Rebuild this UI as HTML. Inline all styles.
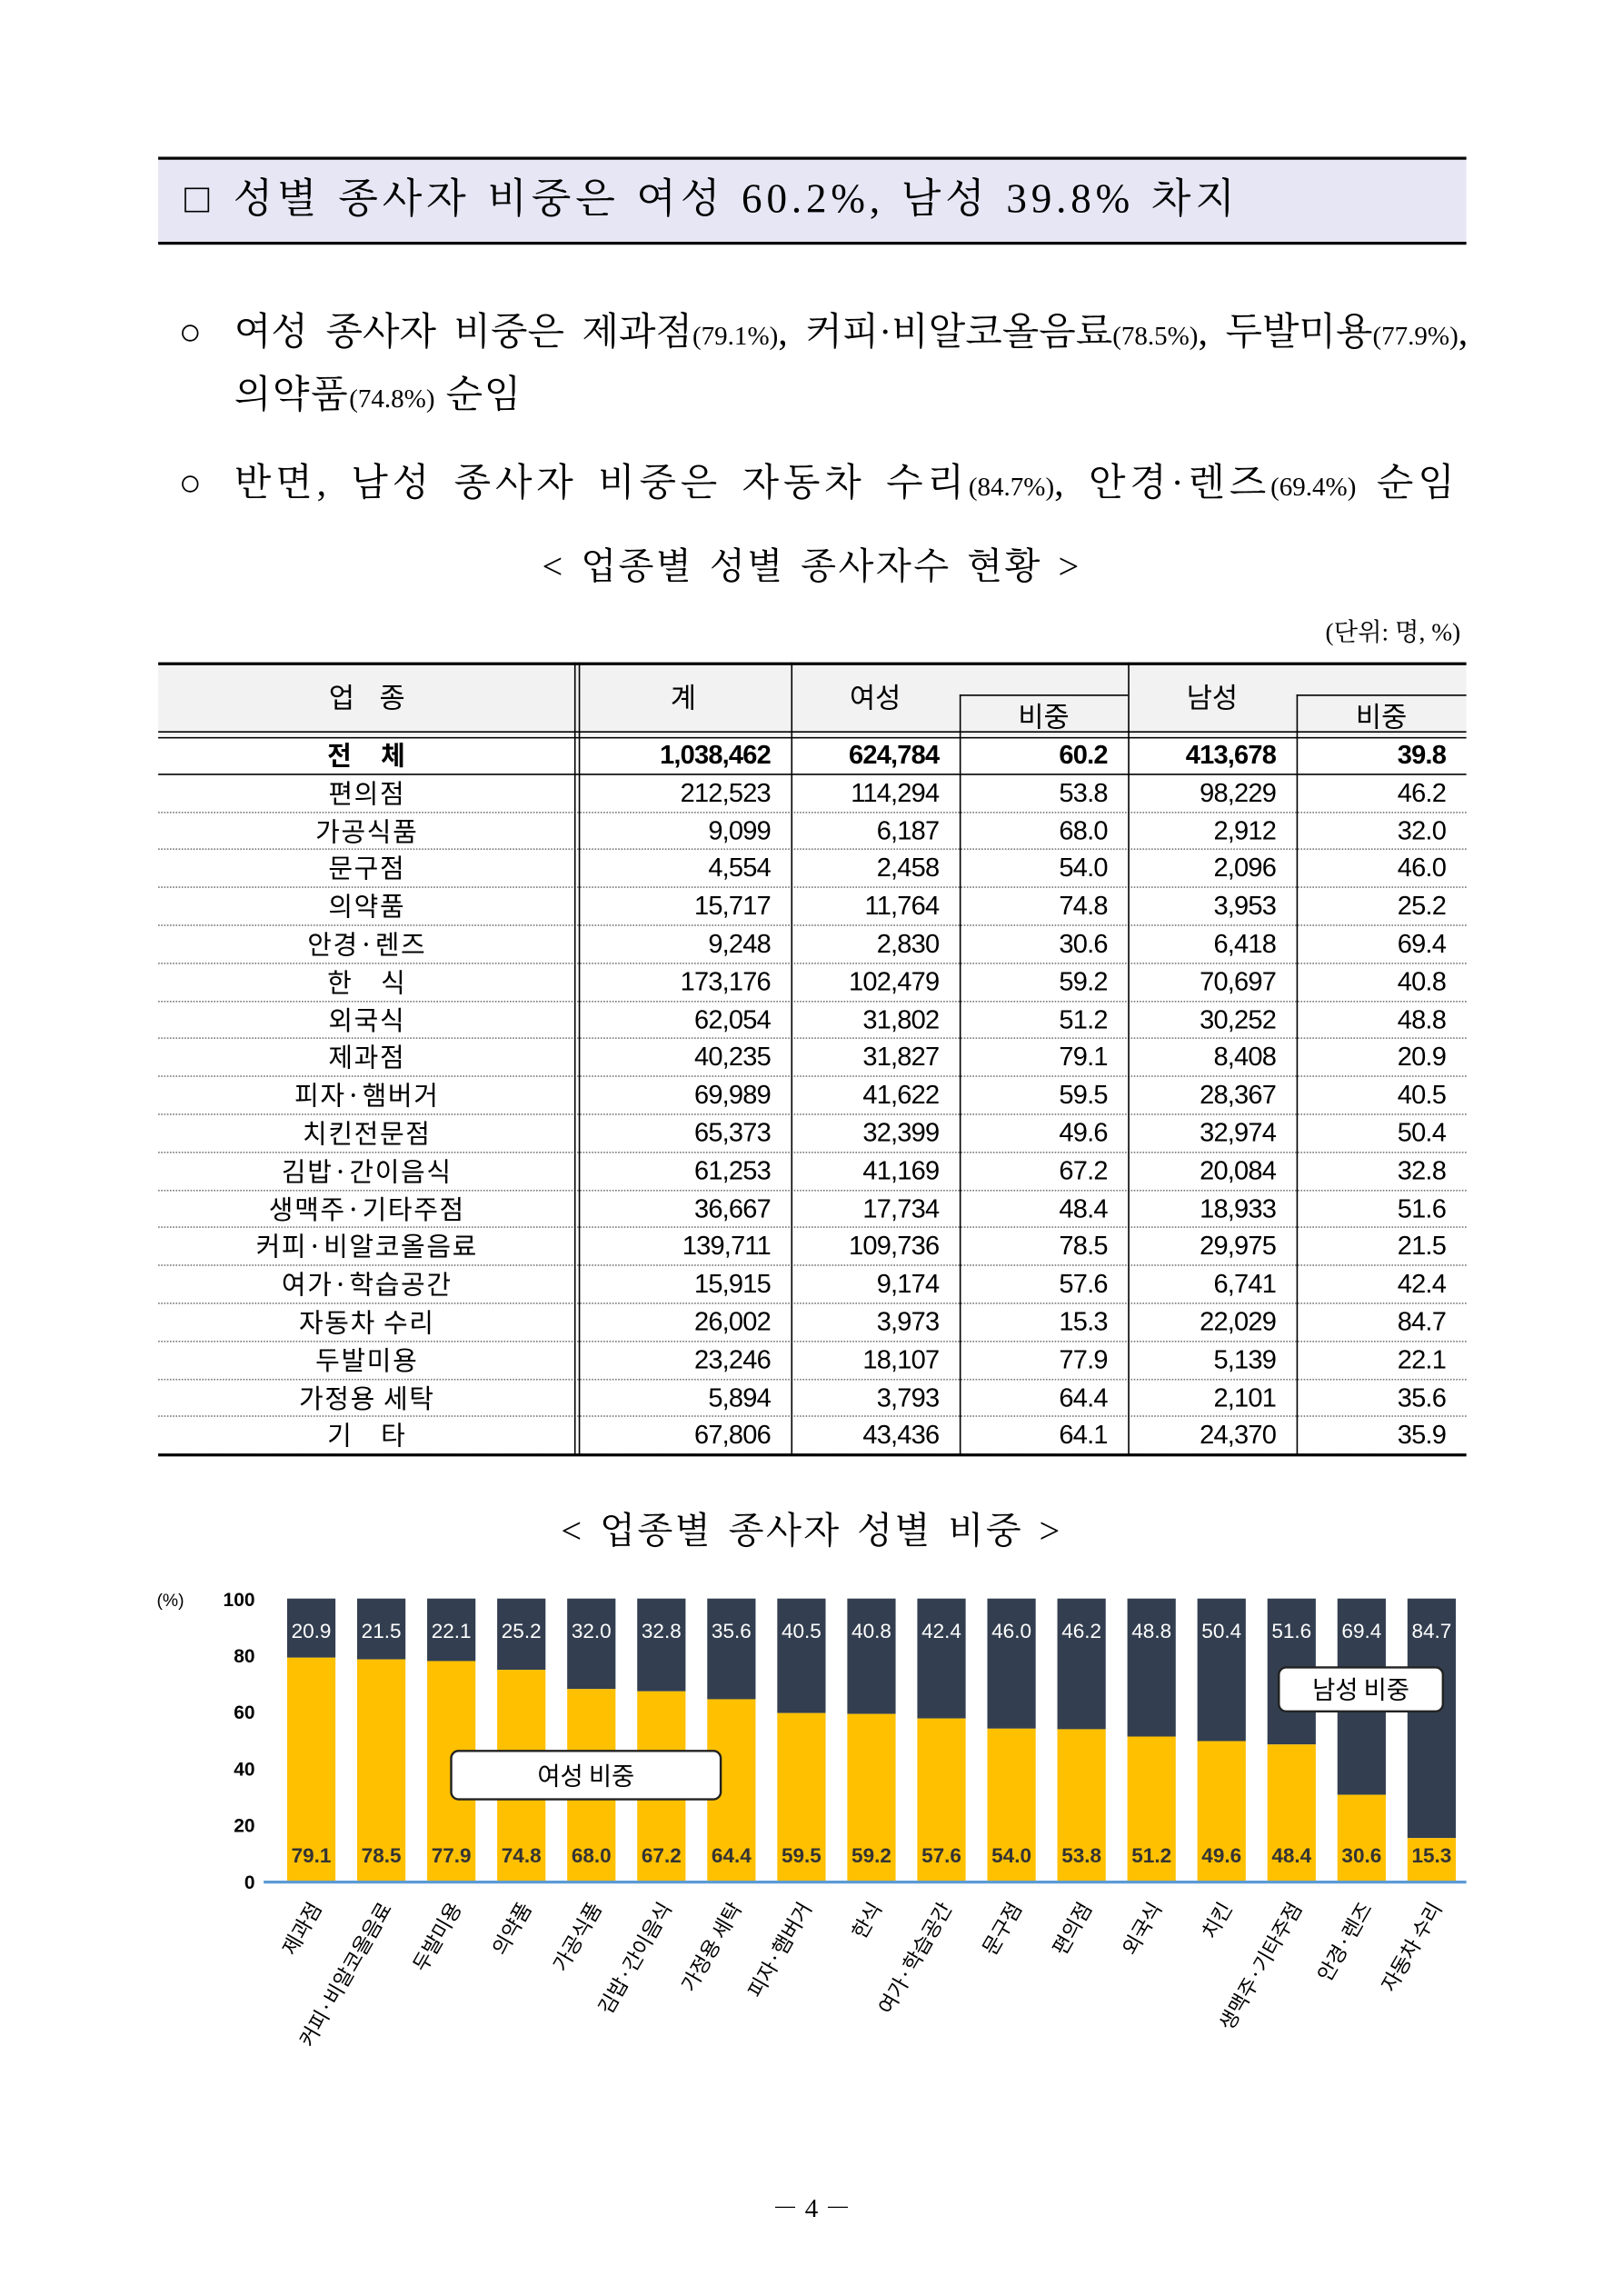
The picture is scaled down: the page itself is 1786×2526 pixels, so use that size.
<!DOCTYPE html>
<html><head><meta charset="utf-8"><style>
html,body{margin:0;padding:0;background:#fff;}
body{width:1786px;height:2526px;overflow:hidden;position:relative;}
#w{position:absolute;left:0;top:0;width:1100px;height:1556px;transform:scale(1.612);transform-origin:0 0;}
.a{position:absolute;white-space:nowrap;}
.ser{font-family:"Liberation Serif","Noto Serif CJK KR","Noto Serif CJK SC",serif;color:#000;}
.san{font-family:"Liberation Sans","Noto Sans CJK KR",sans-serif;color:#000;}
.num{font-family:"Liberation Sans Narrow","Liberation Sans","Noto Sans CJK KR",sans-serif;}
.j{text-align:justify;text-align-last:justify;white-space:normal;}
.row{position:absolute;left:108px;width:893px;height:25.8px;display:flex;font-size:18px;line-height:25.8px;border-bottom:1px dotted #777;box-sizing:border-box;}
.row div{box-sizing:border-box;}
.c0{width:285px;text-align:center;font-family:"Noto Sans CJK KR",sans-serif;letter-spacing:1px;}
.cn{text-align:right;padding-right:14px;letter-spacing:-0.5px;}
.vl{position:absolute;top:452px;height:541px;width:1px;background:#000;}
</style></head><body><div id="w">
<div class="a" style="left:108px;top:107px;width:893px;height:60px;background:#e6e6f5;border-top:2px solid #000;border-bottom:2px solid #000;box-sizing:border-box;"></div>
<div class="a ser j" style="left:126px;width:720px;top:117px;font-size:28px;line-height:40px;letter-spacing:3px;">□ 성별 종사자 비중은 여성 60.2%, 남성 39.8% 차지</div>
<div class="a ser" style="left:122px;top:208px;font-size:26px;line-height:38px;">○</div>
<div class="a ser j" style="left:160px;width:842px;top:208px;font-size:26px;line-height:38px;">여성 종사자 비중은 제과점<span style="font-size:18px">(79.1%)</span>, 커피·비알코올음료<span style="font-size:18px">(78.5%)</span>, 두발미용<span style="font-size:18px">(77.9%)</span>,</div>
<div class="a ser" style="left:160px;top:251px;font-size:26px;line-height:38px;letter-spacing:1px;">의약품<span style="font-size:18px;letter-spacing:0">(74.8%)</span> 순임</div>
<div class="a ser" style="left:122px;top:311px;font-size:26px;line-height:38px;">○</div>
<div class="a ser j" style="left:160px;width:836px;top:311px;font-size:26px;line-height:38px;letter-spacing:3px;">반면, 남성 종사자 비중은 자동차 수리<span style="font-size:18px;letter-spacing:0">(84.7%)</span>, 안경·렌즈<span style="font-size:18px;letter-spacing:0">(69.4%)</span> 순임</div>
<div class="a ser j" style="left:370px;width:368px;top:370px;font-size:25px;line-height:36px;letter-spacing:1.5px;">&lt; 업종별 성별 종사자수 현황 &gt;</div>
<div class="a ser" style="right:103px;top:420px;font-size:17px;line-height:24px;">(단위: 명, %)</div>

<div class="a" style="left:108px;top:452px;width:893px;height:50px;background:#f2f2f2;border-top:2px solid #000;box-sizing:border-box;"></div>
<div class="a" style="left:108px;top:499px;width:893px;height:5px;border-top:1.5px solid #000;border-bottom:1.5px solid #000;box-sizing:border-box;"></div>
<div class="a" style="left:655px;top:474px;width:115px;height:1px;background:#000;"></div>
<div class="a" style="left:885px;top:474px;width:116px;height:1px;background:#000;"></div>
<div class="a san" style="left:108px;top:462px;width:285px;text-align:center;font-size:19px;font-family:'Noto Sans CJK KR',sans-serif;">업&nbsp;&nbsp;&nbsp;&nbsp;종</div>
<div class="a san" style="left:393px;top:462px;width:147px;text-align:center;font-size:19px;font-family:'Noto Sans CJK KR',sans-serif;">계</div>
<div class="a san" style="left:540px;top:462px;width:115px;text-align:center;font-size:19px;font-family:'Noto Sans CJK KR',sans-serif;">여성</div>
<div class="a san" style="left:655px;top:475px;width:115px;text-align:center;font-size:19px;font-family:'Noto Sans CJK KR',sans-serif;">비중</div>
<div class="a san" style="left:770px;top:462px;width:115px;text-align:center;font-size:19px;font-family:'Noto Sans CJK KR',sans-serif;">남성</div>
<div class="a san" style="left:885px;top:475px;width:116px;text-align:center;font-size:19px;font-family:'Noto Sans CJK KR',sans-serif;">비중</div>

<div id="rows"></div>
<div class="vl" style="left:392px;"></div><div class="vl" style="left:395px;"></div>
<div class="vl" style="left:540px;"></div><div class="vl" style="left:655px;top:474px;height:519px;"></div>
<div class="vl" style="left:770px;"></div><div class="vl" style="left:885px;top:474px;height:519px;"></div>
<div class="a" style="left:108px;top:992px;width:893px;height:2px;background:#000;"></div>

<div class="a ser j" style="left:383px;width:342px;top:1028px;font-size:25px;line-height:36px;letter-spacing:1.5px;">&lt; 업종별 종사자 성별 비중 &gt;</div>
<svg class="a" style="left:0;top:0" width="1100" height="1556" id="ch"></svg>
<div class="a ser" style="left:0;width:1108px;text-align:center;top:1493px;font-size:18px;">－ 4 －</div>
</div>
<script>
var R=[["전　체","1,038,462","624,784","60.2","413,678","39.8"],["편의점","212,523","114,294","53.8","98,229","46.2"],["가공식품","9,099","6,187","68.0","2,912","32.0"],["문구점","4,554","2,458","54.0","2,096","46.0"],["의약품","15,717","11,764","74.8","3,953","25.2"],["안경·렌즈","9,248","2,830","30.6","6,418","69.4"],["한　식","173,176","102,479","59.2","70,697","40.8"],["외국식","62,054","31,802","51.2","30,252","48.8"],["제과점","40,235","31,827","79.1","8,408","20.9"],["피자·햄버거","69,989","41,622","59.5","28,367","40.5"],["치킨전문점","65,373","32,399","49.6","32,974","50.4"],["김밥·간이음식","61,253","41,169","67.2","20,084","32.8"],["생맥주·기타주점","36,667","17,734","48.4","18,933","51.6"],["커피·비알코올음료","139,711","109,736","78.5","29,975","21.5"],["여가·학습공간","15,915","9,174","57.6","6,741","42.4"],["자동차 수리","26,002","3,973","15.3","22,029","84.7"],["두발미용","23,246","18,107","77.9","5,139","22.1"],["가정용 세탁","5,894","3,793","64.4","2,101","35.6"],["기　타","67,806","43,436","64.1","24,370","35.9"]];
var W=[147,115,115,115,116],h="";
R.forEach(function(r,i){var t=503+i*25.8;h+='<div class="row" style="top:'+t+'px;'+(i==0?'border-bottom:1px solid #000;font-weight:bold;':'')+'"><div class="c0">'+r[0]+'</div>';for(var j=1;j<6;j++)h+='<div class="cn num" style="width:'+W[j-1]+'px">'+r[j]+'</div>';h+='</div>';});
document.getElementById('rows').outerHTML=h;
var C=[["제과점",79.1],["커피·비알코올음료",78.5],["두발미용",77.9],["의약품",74.8],["가공식품",68.0],["김밥·간이음식",67.2],["가정용 세탁",64.4],["피자·햄버거",59.5],["한식",59.2],["여가·학습공간",57.6],["문구점",54.0],["편의점",53.8],["외국식",51.2],["치킨",49.6],["생맥주·기타주점",48.4],["안경·렌즈",30.6],["자동차 수리",15.3]];
var s='',F='font-family="Liberation Sans Narrow,Liberation Sans,sans-serif"';
C.forEach(function(c,i){var x=196+i*47.8,yb=1284-c[1]*1.93,m=(100-c[1]).toFixed(1);
s+='<rect x="'+x+'" y="1091" width="33" height="'+(yb-1091)+'" fill="#333f50"/><rect x="'+x+'" y="'+yb+'" width="33" height="'+(1284-yb)+'" fill="#ffc000"/>';
s+='<text x="'+(x+16.5)+'" y="1118" text-anchor="middle" font-size="14" fill="#fff" '+F+'>'+m+'</text>';
s+='<text x="'+(x+16.5)+'" y="1271" text-anchor="middle" font-size="14" font-weight="bold" fill="#333" '+F+'>'+c[1].toFixed(1)+'</text>';
s+='<text transform="translate('+(x+24)+',1302) rotate(-60)" text-anchor="end" font-size="14" font-family="Noto Sans CJK KR,sans-serif" fill="#000">'+c[0]+'</text>';});
s+='<line x1="180" y1="1284.5" x2="1001" y2="1284.5" stroke="#5b9bd5" stroke-width="2"/>';
[0,20,40,60,80,100].forEach(function(v){s+='<text x="174" y="'+(1289-v*1.93)+'" text-anchor="end" font-size="13" font-weight="bold" '+F+'>'+v+'</text>';});
s+='<text x="107" y="1096" font-size="12" '+F+'>(%)</text>';
s+='<rect x="308" y="1195" width="184" height="33" rx="5" fill="#fff" stroke="#222" stroke-width="1.5"/><text x="400" y="1218" text-anchor="middle" font-size="17" font-family="Noto Sans CJK KR,sans-serif">여성 비중</text>';
s+='<rect x="873" y="1138" width="112" height="30" rx="5" fill="#fff" stroke="#222" stroke-width="1.5"/><text x="929" y="1159" text-anchor="middle" font-size="17" font-family="Noto Sans CJK KR,sans-serif">남성 비중</text>';
document.getElementById('ch').innerHTML=s;
</script>
</body></html>
